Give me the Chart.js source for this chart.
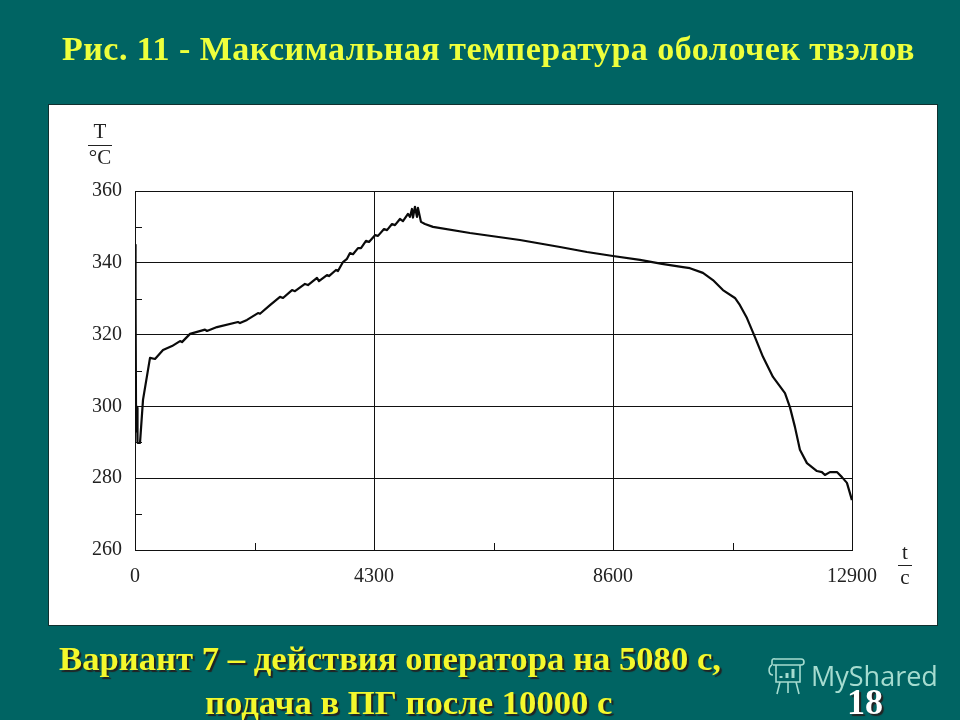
<!DOCTYPE html>
<html lang="ru">
<head>
<meta charset="UTF-8">
<title>Рис. 11</title>
<script src="https://cdn.jsdelivr.net/npm/chart.js"></script>
<style>
    html, body { margin: 0; padding: 0; }
    body { width: 960px; height: 720px; background: #006463; position: relative; overflow: hidden; font-family: "Liberation Serif", serif; }
    #panel { position: absolute; left: 48px; top: 104px; width: 888px; height: 520px; background: #fff; border: 1px solid #10302f; }
    #chartBox { position: absolute; left: 0; top: 0; width: 960px; height: 720px; }
    .txt { position: absolute; white-space: nowrap; }
    #title { left: 62px; top: 30px; font-size: 34px; font-weight: bold; letter-spacing: 0.48px; color: #eeff3c; }
    .note { font-size: 34px; font-weight: bold; color: #f4f82c; text-shadow: 2px 2px 1px #222; transform: scaleX(1.02); transform-origin: left top; }
    .unit { font-size: 21px; color: #222; width: 40px; text-align: center; }
    .bar { position: absolute; height: 1px; background: #222; }
    #mark { left: 811px; top: 657px; font-family: "Open Sans", sans-serif; font-size: 27px; color: #a6dcd0; }
    #page { left: 847px; top: 681px; font-size: 36px; font-weight: bold; color: #fff; text-shadow: 2px 2px 1px #222; }
</style>
</head>
<body>
<div id="panel"></div>
<div id="chartBox"><canvas id="tempChart" width="960" height="720"></canvas></div>

<div id="title" class="txt">Рис. 11 - Максимальная температура оболочек твэлов</div>

<div class="txt unit" style="left:80px;top:119px">T</div>
<div class="bar" style="left:88px;top:145px;width:24px"></div>
<div class="txt unit" style="left:80px;top:145px">°C</div>
<div class="txt unit" style="left:885px;top:540px">t</div>
<div class="bar" style="left:898px;top:565px;width:14px"></div>
<div class="txt unit" style="left:885px;top:565px">c</div>

<div class="txt note" style="left:59px;top:640px">Вариант 7 – действия оператора на 5080 с,</div>
<div class="txt note" style="left:205px;top:684px">подача в ПГ после 10000 с</div>

<svg style="position:absolute;left:767px;top:657px" width="38" height="42" viewBox="0 0 38 42" fill="none" stroke="#a6dcd0" stroke-width="1.6">
    <path d="M5 8V4a2 2 0 0 1 3-2h26a2 2 0 0 1 0 6H6M5 8c-4 2-4 10 1 10M9 8v17h24V8M13 25l-3 12M29 25l3 12M21 25v11"/>
    <path d="M14 21v-2M20 21v-5M26 21v-9" stroke-width="3"/>
</svg>
<div id="mark" class="txt">MyShared</div>
<div id="page" class="txt">18</div>

<script>
    var times = [0, 10, 18, 27, 36, 45, 54, 90, 144, 270, 360, 504, 666, 810, 845, 990, 1259, 1295, 1475, 1853, 1889, 2015,
        2213, 2249, 2429, 2609, 2663, 2825, 2878, 3058, 3112, 3274, 3310, 3454, 3490, 3616, 3652, 3742, 3814, 3868, 3922, 4012,
        4066, 4156, 4210, 4318, 4372, 4480, 4534, 4624, 4677, 4767, 4821, 4911, 4947, 4983, 5001, 5037, 5073, 5091, 5145, 5217,
        5361, 6027, 6926, 7646, 8131, 8599, 9085, 9481, 9859, 9984, 10218, 10398, 10578, 10794, 10884, 11010, 11154, 11298, 11478, 11694,
        11783, 11873, 11963, 12089, 12179, 12269, 12359, 12413, 12503, 12629, 12719, 12809, 12899];
    var temps = [345, 331, 300, 293, 299.6, 290, 289.8, 289.8, 301.8, 313.5, 313.2, 315.7, 316.8, 318.2, 317.9, 320.2, 321.4, 321, 322.1, 323.5, 323.2, 324.1,
        326, 325.8, 328.2, 330.5, 330.2, 332.4, 332.1, 334.1, 333.8, 335.8, 334.9, 336.6, 336.3, 338, 337.7, 340.2, 341.1, 342.7, 342.4, 344.1,
        344.1, 346.1, 345.8, 347.7, 347.5, 349.4, 349.1, 350.8, 350.5, 352.2, 351.6, 353.6, 352.8, 355, 352.6, 355.6, 352.8, 355.3, 351.4, 350.8,
        350, 348.3, 346.35, 344.4, 343, 341.9, 340.8, 339.7, 338.8, 338.5, 337.2, 335.2, 332.4, 330.2, 328.2, 324.6, 319.3, 313.8, 308.2, 303.7,
        299.8, 294.3, 287.9, 284.2, 283.1, 282, 281.7, 280.9, 281.7, 281.7, 280.3, 278.7, 273.9];
    var xTicks = [0, 4300, 8600, 12900];
    var minorX = [2150, 6450, 10750];
    var minorY = [270, 290, 310, 330, 350];

    // short inward ticks between the grid lines
    var minorTicks = {
        id: 'minorTicks',
        afterDatasetsDraw: function(chart) {
            var c = chart.ctx, a = chart.chartArea;
            c.save();
            c.strokeStyle = '#111';
            c.lineWidth = 1;
            c.beginPath();
            minorX.forEach(function(v) {
                var x = Math.round(chart.scales.x.getPixelForValue(v)) + 0.5;
                c.moveTo(x, a.bottom);
                c.lineTo(x, a.bottom - 7);
            });
            minorY.forEach(function(v) {
                var y = Math.round(chart.scales.y.getPixelForValue(v)) + 0.5;
                c.moveTo(a.left, y);
                c.lineTo(a.left + 7, y);
            });
            c.stroke();
            c.restore();
        }
    };

    var points = times.map(function(t, i) { return { x: t, y: temps[i] }; });

    new Chart(document.getElementById('tempChart'), {
        type: 'line',
        data: {
            datasets: [{
                data: points,
                borderColor: '#0a0a0a',
                borderWidth: 2.2,
                borderJoinStyle: 'round',
                pointRadius: 0,
                tension: 0
            }]
        },
        options: {
            responsive: false,
            animation: false,
            layout: { padding: { top: 191, right: 108, left: 0, bottom: 0 } },
            plugins: { legend: { display: false }, tooltip: { enabled: false } },
            scales: {
                x: {
                    type: 'linear',
                    min: 0,
                    max: 12900,
                    afterFit: function(s) { s.height = 170; },
                    afterBuildTicks: function(s) { s.ticks = xTicks.map(function(v) { return { value: v }; }); },
                    border: { color: '#111', width: 1 },
                    grid: { color: '#111', lineWidth: 1, drawTicks: false },
                    ticks: {
                        padding: 15,
                        maxRotation: 0,
                        color: '#222',
                        font: { family: 'Liberation Serif', size: 20 },
                        callback: function(v) { return String(v); }
                    }
                },
                y: {
                    min: 260,
                    max: 360,
                    afterFit: function(s) { s.width = 135; },
                    border: { color: '#111', width: 1 },
                    grid: { color: '#111', lineWidth: 1, drawTicks: false },
                    ticks: {
                        stepSize: 20,
                        padding: 13,
                        color: '#222',
                        font: { family: 'Liberation Serif', size: 20 }
                    }
                }
            }
        },
        plugins: [minorTicks]
    });
</script>
</body>
</html>
